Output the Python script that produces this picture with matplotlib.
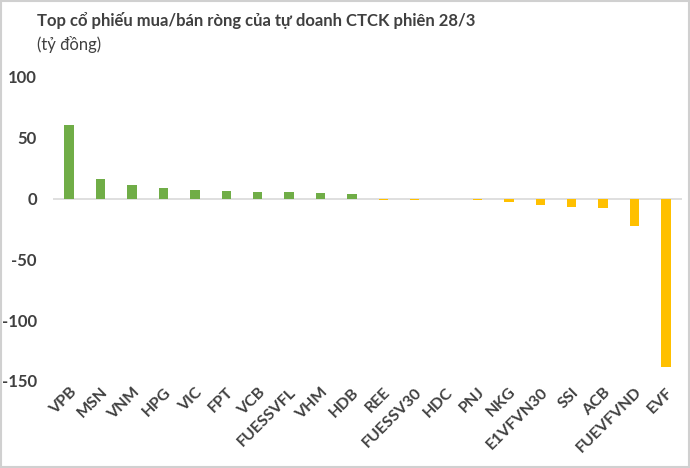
import matplotlib
matplotlib.use("Agg")
import matplotlib.pyplot as plt
from matplotlib.patches import Rectangle

plt.rcParams['font.family'] = ['Lato', 'Noto Sans', 'DejaVu Sans']

# Giá trị mua/bán ròng (tỷ đồng)
tickers = ["VPB", "MSN", "VNM", "HPG", "VIC", "FPT", "VCB", "FUESSVFL", "VHM", "HDB",
           "REE", "FUESSV30", "HDC", "PNJ", "NKG", "E1VFVN30", "SSI", "ACB", "FUEVFVND", "EVF"]
values = [60.5, 15.7, 10.8, 8.5, 6.9, 6.4, 5.3, 5.2, 4.5, 4.1,
          -1.4, -1.4, 0.0, -1.5, -2.5, -5.5, -7.0, -8.0, -22.5, -138.3]
yticks = [100, 50, 0, -50, -100, -150]

green = "#70AD47"
yellow = "#FFC000"
text_col = "#404040"

fig = plt.figure(figsize=(6.9, 4.68), dpi=100)
ax = fig.add_axes([0.0775, 0.186, 0.9105, 0.6496])

colors = [green if v > 0 else yellow for v in values]
ax.bar(range(len(tickers)), values, width=0.3, color=colors, zorder=2)

ax.axhline(0, color="#d9d9d9", lw=1.2, zorder=1)
ax.set_xlim(-0.5, len(tickers) - 0.5)
ax.set_ylim(-150, 100)
ax.set_yticks(yticks)
ax.set_yticklabels([str(t) for t in yticks], fontsize=12, fontweight="bold", color=text_col)
ax.tick_params(axis="y", length=0, pad=12)

ax.set_xticks(range(len(tickers)))
ax.set_xticklabels(tickers, rotation=45, ha="right", rotation_mode="anchor",
                   fontsize=11.5, fontweight="bold", color=text_col)
ax.tick_params(axis="x", length=0, pad=3)

for s in ax.spines.values():
    s.set_visible(False)

fig.text(0.054, 0.957, "Top cổ phiếu mua/bán ròng của tự doanh CTCK phiên 28/3",
         fontsize=12, fontweight="bold", color=text_col, va="center")
fig.text(0.054, 0.905, "(tỷ đồng)", fontsize=12, color=text_col, va="center")

fig.patches.append(Rectangle((0.002, 0.003), 0.996, 0.994, transform=fig.transFigure,
                             fill=False, edgecolor="#d0d0d0", lw=1.5))

fig.savefig("out.png", dpi=100)
